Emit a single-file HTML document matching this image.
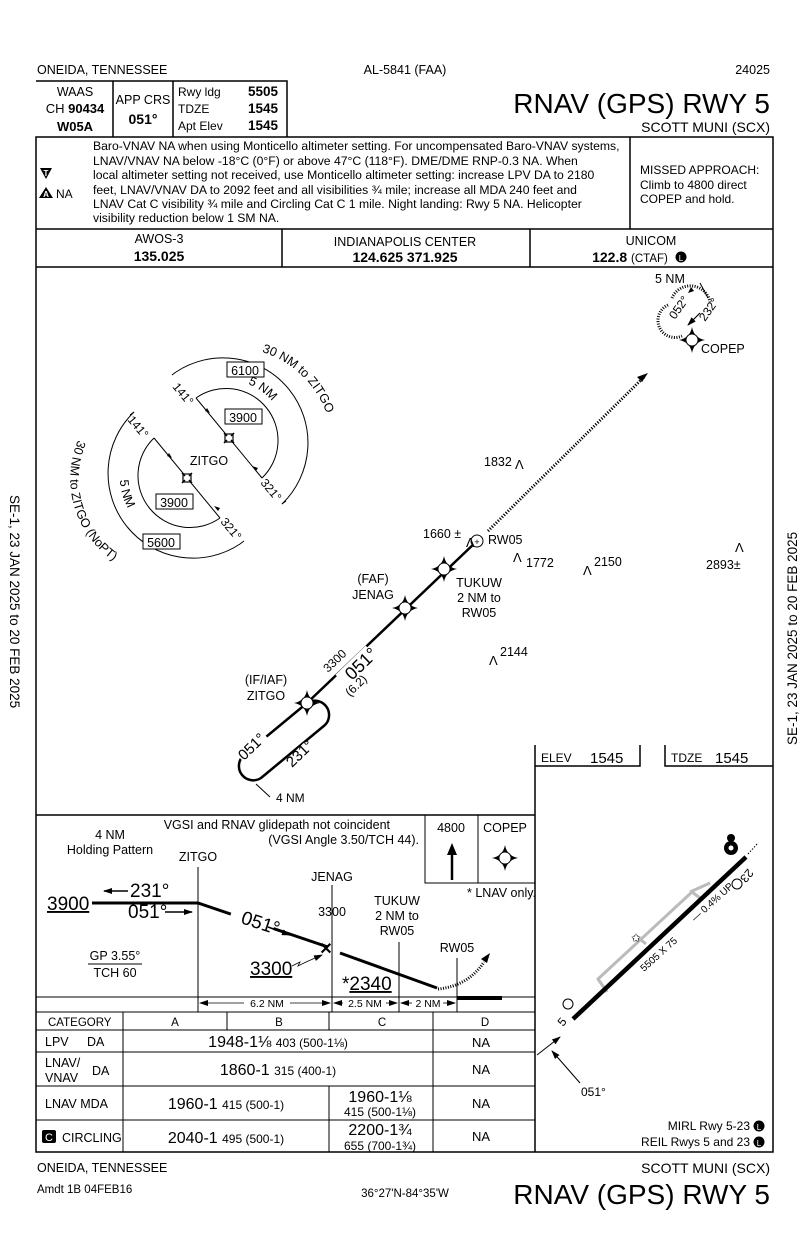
<!DOCTYPE html>
<html><head><meta charset="utf-8"><style>
html,body{margin:0;padding:0;background:#fff}
svg{display:block}
text{font-family:"Liberation Sans",sans-serif;fill:#000}
</style></head><body>
<svg width="807" height="1237" viewBox="0 0 807 1237" xmlns="http://www.w3.org/2000/svg">
<defs>
<g id="fix"><path d="M0,-13 Q2,-2 13,0 Q2,2 0,13 Q-2,2 -13,0 Q-2,-2 0,-13Z" fill="#000"/><circle r="6" fill="#fff" stroke="#000" stroke-width="1"/></g>
<g id="wp"><rect x="-4" y="-4" width="8" height="8" fill="#fff" stroke="#000" stroke-width="1.2"/><path d="M-5,-5 l3,3 M5,-5 l-3,3 M-5,5 l3,-3 M5,5 l-3,-3" stroke="#000" stroke-width="1.5"/></g>
<marker id="ah" markerUnits="userSpaceOnUse" markerWidth="9" markerHeight="6" refX="8" refY="3" orient="auto"><path d="M0,0 L9,3 L0,6Z" fill="#000"/></marker>
<marker id="ahs" markerUnits="userSpaceOnUse" markerWidth="9" markerHeight="6" refX="1" refY="3" orient="auto"><path d="M9,0 L0,3 L9,6Z" fill="#000"/></marker>
</defs>

<!-- header -->
<text x="37" y="74" font-size="12.5">ONEIDA, TENNESSEE</text>
<text x="405" y="74" font-size="12.5" text-anchor="middle">AL-5841 (FAA)</text>
<text x="770" y="74" font-size="12.5" text-anchor="end">24025</text>

<g fill="none" stroke="#000" stroke-width="1.5">
<path d="M36,81 H287 V137"/>
<line x1="113" y1="81" x2="113" y2="137"/><line x1="173" y1="81" x2="173" y2="137"/>
<rect x="36" y="137" width="737" height="1015"/>
<line x1="36" y1="229" x2="773" y2="229"/><line x1="36" y1="267" x2="773" y2="267"/>
<line x1="282" y1="229" x2="282" y2="267"/><line x1="530" y1="229" x2="530" y2="267"/>
<line x1="630" y1="137" x2="630" y2="229"/>
</g>
<text x="75" y="96" font-size="12.5" text-anchor="middle">WAAS</text>
<text x="75" y="113" font-size="13" text-anchor="middle">CH <tspan font-weight="bold">90434</tspan></text>
<text x="75" y="131" font-size="13" text-anchor="middle" font-weight="bold">W05A</text>
<text x="143" y="104" font-size="12.5" text-anchor="middle">APP CRS</text>
<text x="143" y="124" font-size="14" text-anchor="middle" font-weight="bold">051°</text>
<text x="178" y="96" font-size="12">Rwy ldg</text><text x="278" y="96" font-size="13.5" font-weight="bold" text-anchor="end">5505</text>
<text x="178" y="113" font-size="12">TDZE</text><text x="278" y="113" font-size="13.5" font-weight="bold" text-anchor="end">1545</text>
<text x="178" y="130" font-size="12">Apt Elev</text><text x="278" y="130" font-size="13.5" font-weight="bold" text-anchor="end">1545</text>
<text x="770" y="113" font-size="28" text-anchor="end">RNAV (GPS) RWY 5</text>
<text x="770" y="132" font-size="14" text-anchor="end">SCOTT MUNI (SCX)</text>

<!-- notes -->
<path d="M40,168 h12 l-6,11z" fill="#000"/><text x="46" y="176" font-size="8" text-anchor="middle" style="fill:#fff" font-weight="bold">T</text>
<path d="M46,187 l7,11 h-14z" fill="#000"/><text x="46" y="197" font-size="8" text-anchor="middle" style="fill:#fff" font-weight="bold">A</text>
<text x="56" y="198" font-size="12">NA</text>
<g font-size="12.2">
<text x="93" y="150">Baro-VNAV NA when using Monticello altimeter setting. For uncompensated Baro-VNAV systems,</text>
<text x="93" y="165">LNAV/VNAV NA below -18°C (0°F) or above 47°C (118°F). DME/DME RNP-0.3 NA. When</text>
<text x="93" y="179">local altimeter setting not received, use Monticello altimeter setting: increase LPV DA to 2180</text>
<text x="93" y="194">feet, LNAV/VNAV DA to 2092 feet and all visibilities ¾ mile; increase all MDA 240 feet and</text>
<text x="93" y="208">LNAV Cat C visibility ¾ mile and Circling Cat C 1 mile. Night landing: Rwy 5 NA. Helicopter</text>
<text x="93" y="222">visibility reduction below 1 SM NA.</text>
</g>
<g font-size="12"><text x="640" y="174">MISSED APPROACH:</text><text x="640" y="189">Climb to 4800 direct</text><text x="640" y="203">COPEP and hold.</text></g>

<!-- comms -->
<text x="159" y="243" font-size="12.5" text-anchor="middle">AWOS-3</text>
<text x="159" y="261" font-size="14" text-anchor="middle" font-weight="bold">135.025</text>
<text x="405" y="246" font-size="12.5" text-anchor="middle">INDIANAPOLIS CENTER</text>
<text x="405" y="262" font-size="14" text-anchor="middle" font-weight="bold">124.625  371.925</text>
<text x="651" y="245" font-size="12.5" text-anchor="middle">UNICOM</text>
<text x="630" y="262" font-size="14" font-weight="bold" text-anchor="middle">122.8 <tspan font-size="11.5" font-weight="normal">(CTAF)</tspan></text>
<circle cx="681" cy="257" r="5.5" fill="#000"/><text x="681" y="261" font-size="8" text-anchor="middle" style="fill:#fff">L</text>

<!-- side text -->
<text transform="translate(10,495) rotate(90)" font-size="13.5">SE-1,  23 JAN 2025  to  20 FEB 2025</text>
<text transform="translate(797,745) rotate(-90)" font-size="13.5">SE-1,  23 JAN 2025  to  20 FEB 2025</text>

<!-- TAA sectors -->
<g fill="none" stroke="#000" stroke-width="1">
<path d="M196,398 A52,52 0 0 1 262,478"/>
<path d="M176,372 A85,85 0 0 1 282,504"/>
<path d="M172,375 l4,-3 M286,501 l-4,3"/>
<line x1="196" y1="398" x2="262" y2="478"/>
<path d="M220,518 A52,52 0 0 1 154,438"/>
<path d="M240,544 A85,85 0 0 1 134,412"/>
<path d="M244,541 l-4,3 M130,415 l4,-3"/>
<line x1="154" y1="438" x2="220" y2="518"/>
<path id="tp1" d="M262,352 A100,100 0 0 1 330,470" stroke="none"/>
<path id="tp2" d="M78,440 A100,100 0 0 0 200,574" stroke="none"/>
<path id="tp3" d="M248,384 A60,60 0 0 1 285,428" stroke="none"/>
<path id="tp4" d="M120,480 A62,62 0 0 0 152,532" stroke="none"/>
</g>
<path d="M210,413 l-5,-2 2,-3z M252,466 l6,2 -2,3z M172,458 l-5,-2 2,-3z M214,506 l6,2 -2,3z" fill="#000"/>
<text font-size="12.5"><textPath href="#tp1">30 NM to ZITGO</textPath></text>
<text font-size="12.5"><textPath href="#tp2">30 NM to ZITGO (NoPT)</textPath></text>
<text font-size="12.5"><textPath href="#tp3">5 NM</textPath></text>
<text font-size="12.5"><textPath href="#tp4">5 NM</textPath></text>
<text transform="translate(172,387) rotate(50)" font-size="12">141°</text>
<text transform="translate(127,420) rotate(50)" font-size="12">141°</text>
<text transform="translate(260,483) rotate(50)" font-size="12">321°</text>
<text transform="translate(220,522) rotate(50)" font-size="12">321°</text>
<g fill="#fff" stroke="#000" stroke-width="1"><rect x="227" y="362" width="37" height="15"/><rect x="225" y="409" width="37" height="15"/><rect x="156" y="494" width="37" height="15"/><rect x="143" y="534" width="37" height="15"/></g>
<g font-size="12.5" text-anchor="middle"><text x="245" y="375">6100</text><text x="243" y="422">3900</text><text x="174" y="507">3900</text><text x="161" y="547">5600</text></g>
<text x="209" y="465" font-size="12.5" text-anchor="middle">ZITGO</text>
<use href="#wp" x="229" y="438"/><use href="#wp" x="187" y="478"/>

<!-- course -->
<g fill="none" stroke="#000" stroke-width="2.5">
<line x1="307" y1="703" x2="477" y2="541"/>
<path d="M243,756 L307,703 M325,725 L261,778 M307,703 A14.3,14.3 0 0 1 325,725 M261,778 A14.3,14.3 0 0 1 243,756"/>
</g>
<line x1="488" y1="531" x2="645" y2="376" stroke="#000" stroke-width="3" stroke-dasharray="1.2,1.6"/>
<path d="M648,373 l-11,4 5,5z" fill="#000"/>
<rect x="340" y="656" width="42" height="30" fill="#fff" transform="rotate(-44 361 671)"/>
<text transform="translate(352,681) rotate(-44)" font-size="18">051°</text>
<text transform="translate(328,673) rotate(-44)" font-size="12">3300</text>
<text transform="translate(350,697) rotate(-44)" font-size="12">(6.2)</text>
<rect x="232" y="734" width="34" height="18" fill="#fff" transform="rotate(-44 249 743)"/>
<text transform="translate(244,761) rotate(-44)" font-size="15">051°</text>
<rect x="282" y="751" width="34" height="18" fill="#fff" transform="rotate(-44 299 760)"/>
<text transform="translate(292,768) rotate(-44)" font-size="15">231°</text>
<line x1="256" y1="784" x2="270" y2="797" stroke="#000"/>
<text x="276" y="802" font-size="12">4 NM</text>
<use href="#fix" x="307" y="703"/><use href="#fix" x="405" y="608"/><use href="#fix" x="444" y="569"/>
<circle cx="477" cy="541" r="6" fill="#fff" stroke="#000"/><text x="477" y="545" font-size="9" text-anchor="middle">+</text>
<text x="266" y="684" font-size="12.5" text-anchor="middle">(IF/IAF)</text>
<text x="266" y="700" font-size="12.5" text-anchor="middle">ZITGO</text>
<text x="373" y="583" font-size="12.5" text-anchor="middle">(FAF)</text>
<text x="373" y="599" font-size="12.5" text-anchor="middle">JENAG</text>
<text x="479" y="587" font-size="12.5" text-anchor="middle">TUKUW</text>
<text x="479" y="602" font-size="12.5" text-anchor="middle">2 NM to</text>
<text x="479" y="617" font-size="12.5" text-anchor="middle">RW05</text>
<text x="488" y="544" font-size="12.5">RW05</text>
<!-- obstacles -->
<g font-size="12.5">
<text x="423" y="538">1660 ±</text><text x="466" y="547" font-size="13">Λ</text>
<text x="484" y="466">1832</text><text x="515" y="469" font-size="13">Λ</text>
<text x="513" y="562" font-size="13">Λ</text><text x="526" y="567">1772</text>
<text x="583" y="575" font-size="13">Λ</text><text x="594" y="566">2150</text>
<text x="735" y="552" font-size="13">Λ</text><text x="706" y="569">2893±</text>
<text x="489" y="665" font-size="13">Λ</text><text x="500" y="656">2144</text>
</g>
<!-- COPEP holding -->
<path d="M672,298 A20,20 0 0 1 710,302 M668,305 A14,14 0 0 0 682,336" fill="none" stroke="#000" stroke-width="3" stroke-dasharray="1,1.5"/>
<line x1="700" y1="313" x2="688" y2="325" stroke="#000" stroke-width="1.2" marker-end="url(#ah)"/>
<line x1="700" y1="283" x2="708" y2="298" stroke="#000"/>
<path d="M694,291 l-6,2 3,-6z" fill="#000"/>
<text x="655" y="283" font-size="12.5">5 NM</text>
<text transform="translate(675,320) rotate(-55)" font-size="12">052°</text>
<text transform="translate(705,322) rotate(-55)" font-size="12">232°</text>
<use href="#fix" x="692" y="340"/>
<text x="701" y="353" font-size="12.5">COPEP</text>

<!-- airport diagram -->
<g fill="none" stroke="#000" stroke-width="1.5">
<line x1="535" y1="745" x2="535" y2="1152"/><line x1="535" y1="815" x2="36" y2="815"/>
<path d="M535,766 H640 V745 M665,745 V766 H773"/>
</g>
<text x="541" y="762" font-size="12">ELEV</text><text x="590" y="763" font-size="15">1545</text>
<text x="671" y="762" font-size="12">TDZE</text><text x="715" y="763" font-size="15">1545</text>
<path d="M600,982 L598,979 L692,892 L700,898 M598,979 L607,992 M640,939 L646,944 M690,892 L710,883" fill="none" stroke="#bbb" stroke-width="3"/>
<line x1="573" y1="1019" x2="746" y2="857" stroke="#000" stroke-width="4.5"/>
<line x1="748" y1="854" x2="758" y2="843" stroke="#000" stroke-width="1" stroke-dasharray="1.5,1.5"/>
<circle cx="731" cy="848" r="7" fill="#000"/><circle cx="731" cy="838" r="4" fill="#000"/><circle cx="731" cy="848" r="2.5" fill="#fff"/>
<text x="631" y="942" font-size="12">✩</text>
<text transform="translate(644,972) rotate(-42)" font-size="10">5505 X 75</text>
<text transform="translate(695,922) rotate(-42)" font-size="10">— 0.4% UP</text>
<circle cx="737" cy="884" r="5" fill="none" stroke="#000"/><circle cx="568" cy="1004" r="5" fill="none" stroke="#000"/>
<text transform="translate(748,868) rotate(130)" font-size="12">23</text>
<text transform="translate(563,1027) rotate(-50)" font-size="12">5</text>
<line x1="537" y1="1055" x2="560" y2="1037" stroke="#000" marker-end="url(#ah)"/>
<line x1="580" y1="1083" x2="552" y2="1051" stroke="#000" marker-end="url(#ah)"/>
<text x="581" y="1096" font-size="12">051°</text>
<text x="750" y="1130" font-size="12" text-anchor="end">MIRL Rwy 5-23</text>
<text x="750" y="1146" font-size="12" text-anchor="end">REIL Rwys 5 and 23</text>
<circle cx="759" cy="1126" r="5.5" fill="#000"/><circle cx="759" cy="1142" r="5.5" fill="#000"/>
<text x="759" y="1130" font-size="8" text-anchor="middle" style="fill:#fff">L</text><text x="759" y="1146" font-size="8" text-anchor="middle" style="fill:#fff">L</text>

<!-- profile -->
<g fill="none" stroke="#000" stroke-width="1">
<path d="M425,815 V883 H535 M478,815 V883"/>
<line x1="198" y1="867" x2="198" y2="1012"/><line x1="332" y1="885" x2="332" y2="1012"/>
<line x1="399" y1="942" x2="399" y2="1012"/><line x1="457" y1="958" x2="457" y2="1012"/>
<line x1="36" y1="997" x2="535" y2="997"/><line x1="36" y1="1012" x2="535" y2="1012"/>
</g>
<line x1="452" y1="880" x2="452" y2="850" stroke="#000" stroke-width="2.5"/>
<path d="M452,843 l-5,12 h10z" fill="#000"/>
<text x="451" y="832" font-size="12.5" text-anchor="middle">4800</text>
<text x="505" y="832" font-size="12.5" text-anchor="middle">COPEP</text>
<use href="#fix" x="505" y="858"/>
<text x="467" y="897" font-size="12.5">* LNAV only.</text>
<text x="390" y="829" font-size="12.5" text-anchor="end">VGSI and RNAV glidepath not coincident</text>
<text x="419" y="844" font-size="12.5" text-anchor="end">(VGSI Angle 3.50/TCH 44).</text>
<text x="110" y="839" font-size="12.5" text-anchor="middle">4 NM</text>
<text x="110" y="854" font-size="12.5" text-anchor="middle">Holding Pattern</text>
<text x="198" y="861" font-size="12.5" text-anchor="middle">ZITGO</text>
<text x="332" y="881" font-size="12.5" text-anchor="middle">JENAG</text>
<text x="332" y="916" font-size="12.5" text-anchor="middle">3300</text>
<text x="397" y="905" font-size="12.5" text-anchor="middle">TUKUW</text>
<text x="397" y="920" font-size="12.5" text-anchor="middle">2 NM to</text>
<text x="397" y="935" font-size="12.5" text-anchor="middle">RW05</text>
<text x="457" y="952" font-size="12.5" text-anchor="middle">RW05</text>
<path d="M92,903 H198 L328,947 M340,953 L437,988" fill="none" stroke="#000" stroke-width="3"/>
<text x="326" y="954" font-size="16" text-anchor="middle" font-weight="bold">✕</text>
<path d="M438,989 Q468,986 484,962" fill="none" stroke="#000" stroke-width="3" stroke-dasharray="1,1.5"/>
<path d="M490,953 l-9,6 6,4z" fill="#000"/>
<line x1="457" y1="998" x2="502" y2="998" stroke="#000" stroke-width="4"/>
<rect x="232" y="904" width="45" height="20" fill="#fff" transform="rotate(18 254 914)"/>
<text transform="translate(240,923) rotate(18)" font-size="19">051°</text>
<line x1="268" y1="927" x2="290" y2="935" stroke="#000" stroke-width="1.5" marker-end="url(#ah)"/>
<text x="47" y="910" font-size="19" text-decoration="underline">3900</text>
<text x="130" y="897" font-size="19">231°</text><line x1="128" y1="891" x2="104" y2="891" stroke="#000" stroke-width="1.5" marker-end="url(#ah)"/>
<text x="128" y="918" font-size="19">051°</text><line x1="165" y1="912" x2="192" y2="912" stroke="#000" stroke-width="1.5" marker-end="url(#ah)"/>
<text x="115" y="960" font-size="12.5" text-anchor="middle">GP 3.55°</text>
<line x1="88" y1="964" x2="142" y2="964" stroke="#000"/>
<text x="115" y="977" font-size="12.5" text-anchor="middle">TCH 60</text>
<text x="250" y="975" font-size="19" text-decoration="underline">3300</text>
<path d="M292,966 l8,-4 -2,4 8,-4" fill="none" stroke="#000" stroke-width="0.8"/><line x1="306" y1="962" x2="322" y2="955" stroke="#000" stroke-width="0.8" marker-end="url(#ah)"/>
<text x="342" y="990" font-size="19">*<tspan text-decoration="underline">2340</tspan></text>
<g stroke="#000" stroke-width="0.8"><line x1="200" y1="1003" x2="244" y2="1003" marker-start="url(#ahs)"/><line x1="290" y1="1003" x2="330" y2="1003" marker-end="url(#ah)"/>
<line x1="334" y1="1003" x2="343" y2="1003" marker-start="url(#ahs)"/><line x1="386" y1="1003" x2="397" y2="1003" marker-end="url(#ah)"/>
<line x1="401" y1="1003" x2="412" y2="1003" marker-start="url(#ahs)"/><line x1="443" y1="1003" x2="455" y2="1003" marker-end="url(#ah)"/></g>
<g font-size="10.5" text-anchor="middle"><text x="267" y="1007">6.2 NM</text><text x="365" y="1007">2.5 NM</text><text x="428" y="1007">2 NM</text></g>

<!-- minima -->
<g fill="none" stroke="#000" stroke-width="1">
<line x1="36" y1="1030" x2="535" y2="1030"/><line x1="36" y1="1052" x2="535" y2="1052"/>
<line x1="36" y1="1086" x2="535" y2="1086"/><line x1="36" y1="1120" x2="535" y2="1120"/>
<line x1="123" y1="1012" x2="123" y2="1152"/><line x1="227" y1="1012" x2="227" y2="1030"/>
<line x1="329" y1="1012" x2="329" y2="1030"/><line x1="329" y1="1086" x2="329" y2="1152"/>
<line x1="433" y1="1012" x2="433" y2="1152"/>
</g>
<g font-size="11.5"><text x="48" y="1026">CATEGORY</text><text x="175" y="1026" text-anchor="middle">A</text><text x="279" y="1026" text-anchor="middle">B</text><text x="382" y="1026" text-anchor="middle">C</text><text x="485" y="1026" text-anchor="middle">D</text></g>
<g font-size="12.5"><text x="45" y="1046">LPV</text><text x="87" y="1046">DA</text>
<text x="45" y="1067">LNAV/</text><text x="45" y="1082">VNAV</text><text x="92" y="1075">DA</text>
<text x="45" y="1108">LNAV  MDA</text><text x="62" y="1142">CIRCLING</text></g>
<rect x="42" y="1130" width="14" height="13" rx="2" fill="#000"/><text x="49" y="1141" font-size="11" text-anchor="middle" style="fill:#fff">C</text>
<g text-anchor="middle"><text x="278" y="1047" font-size="16">1948-1⅛ <tspan font-size="12">403 (500-1⅛)</tspan></text>
<text x="278" y="1075" font-size="16">1860-1  <tspan font-size="12">315 (400-1)</tspan></text>
<text x="226" y="1109" font-size="16">1960-1  <tspan font-size="12">415 (500-1)</tspan></text>
<text x="226" y="1143" font-size="16">2040-1  <tspan font-size="12">495 (500-1)</tspan></text>
<text x="380" y="1102" font-size="16">1960-1⅛</text><text x="380" y="1116" font-size="12">415 (500-1⅛)</text>
<text x="380" y="1135" font-size="16">2200-1¾</text><text x="380" y="1150" font-size="12">655 (700-1¾)</text>
<g font-size="13"><text x="481" y="1047">NA</text><text x="481" y="1074">NA</text><text x="481" y="1108">NA</text><text x="481" y="1141">NA</text></g></g>

<!-- footer -->
<text x="37" y="1172" font-size="12.5">ONEIDA, TENNESSEE</text>
<text x="37" y="1193" font-size="11.5">Amdt 1B  04FEB16</text>
<text x="405" y="1197" font-size="11.5" text-anchor="middle">36°27'N-84°35'W</text>
<text x="770" y="1173" font-size="14" text-anchor="end">SCOTT MUNI (SCX)</text>
<text x="770" y="1204" font-size="28" text-anchor="end">RNAV (GPS) RWY 5</text>
</svg>
</body></html>
